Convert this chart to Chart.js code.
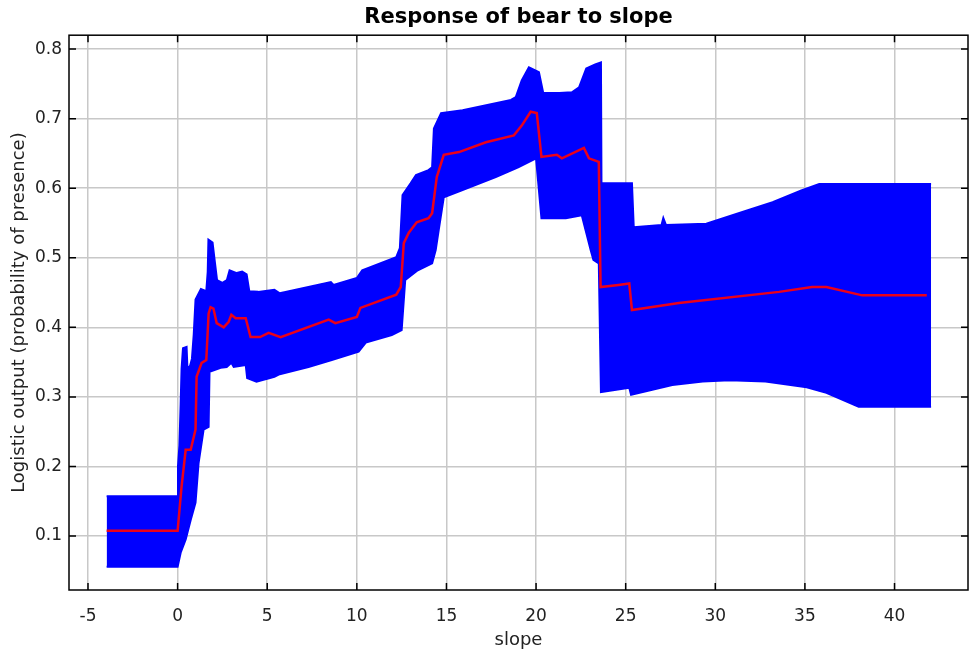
<!DOCTYPE html>
<html>
<head>
<meta charset="utf-8">
<title>Response of bear to slope</title>
<script src="https://cdn.jsdelivr.net/npm/chart.js@4.4.1/dist/chart.umd.min.js"></script>
<style>
  html, body { margin: 0; padding: 0; background: #fff; }
  #wrap { width: 970px; height: 658px; }
</style>
</head>
<body>
<div id="wrap"><canvas id="chart" width="970" height="658"></canvas></div>
<script>
// Valeurs (slope -> sortie logistique)
const upperX = [-3.96, 0.0, 0.02, 0.1, 0.17, 0.22, 0.3, 0.5, 0.55, 0.7, 0.8, 0.9, 1.0, 1.3, 1.6, 1.68, 1.72, 1.95, 2.05, 2.2, 2.5, 2.75, 2.9, 3.3, 3.6, 3.85, 4.0, 4.5, 5.4, 5.7, 7.3, 8.55, 8.7, 10.0, 10.3, 12.2, 12.4, 12.55, 13.0, 13.3, 14.0, 14.2, 14.3, 14.7, 15.9, 18.6, 18.87, 19.2, 19.6, 20.16, 20.4, 21.3, 22.0, 22.4, 22.8, 23.3, 23.62, 23.65, 25.35, 25.45, 27.0, 27.1, 27.25, 29.5, 31.3, 33.2, 34.8, 35.8, 42.04];
const upperY = [0.157, 0.157, 0.2, 0.23, 0.29, 0.34, 0.37, 0.372, 0.34, 0.345, 0.355, 0.39, 0.44, 0.455, 0.452, 0.48, 0.526, 0.522, 0.5, 0.468, 0.464, 0.468, 0.482, 0.478, 0.48, 0.476, 0.452, 0.451, 0.454, 0.449, 0.458, 0.465, 0.461, 0.471, 0.482, 0.501, 0.514, 0.59, 0.607, 0.619, 0.626, 0.63, 0.686, 0.708, 0.712, 0.727, 0.731, 0.755, 0.774, 0.767, 0.737, 0.737, 0.738, 0.745, 0.772, 0.778, 0.781, 0.607, 0.607, 0.544, 0.547, 0.557, 0.547, 0.549, 0.564, 0.58, 0.597, 0.606, 0.606];

const lowerX = [-3.96, 0.0, 0.17, 0.45, 0.73, 1.0, 1.17, 1.45, 1.73, 1.78, 2.4, 2.74, 3.0, 3.13, 3.8, 3.88, 4.4, 5.4, 5.64, 7.3, 8.6, 10.1, 10.5, 11.95, 12.5, 12.7, 13.4, 14.2, 14.4, 14.57, 14.85, 15.86, 17.75, 19.0, 20.0, 20.3, 21.66, 22.55, 22.8, 23.05, 23.2, 23.5, 23.62, 25.2, 25.3, 27.6, 29.3, 30.8, 32.8, 35.1, 36.2, 38.0, 42.04];
const lowerY = [0.056, 0.056, 0.076, 0.095, 0.123, 0.148, 0.205, 0.253, 0.257, 0.336, 0.342, 0.343, 0.349, 0.343, 0.346, 0.327, 0.322, 0.329, 0.332, 0.343, 0.353, 0.365, 0.378, 0.389, 0.396, 0.468, 0.482, 0.492, 0.511, 0.54, 0.587, 0.597, 0.616, 0.63, 0.643, 0.557, 0.557, 0.561, 0.536, 0.511, 0.497, 0.492, 0.307, 0.313, 0.303, 0.317, 0.322, 0.324, 0.322, 0.314, 0.306, 0.286, 0.286];

const meanX = [-3.96, 0.0, 0.22, 0.45, 0.73, 1.0, 1.06, 1.34, 1.6, 1.73, 1.84, 2.0, 2.18, 2.57, 2.85, 3.0, 3.24, 3.8, 4.07, 4.6, 5.08, 5.75, 8.43, 8.8, 10.0, 10.2, 12.2, 12.45, 12.62, 12.9, 13.34, 14.0, 14.2, 14.46, 14.85, 15.7, 17.2, 18.76, 19.2, 19.7, 20.04, 20.3, 21.16, 21.44, 22.67, 22.95, 23.5, 23.6, 24.6, 25.2, 25.35, 27.97, 33.56, 35.4, 36.2, 38.2, 41.8];
const meanY = [0.1075, 0.1075, 0.171, 0.224, 0.224, 0.253, 0.329, 0.349, 0.353, 0.42, 0.429, 0.427, 0.406, 0.4, 0.408, 0.418, 0.413, 0.413, 0.386, 0.386, 0.392, 0.386, 0.411, 0.406, 0.415, 0.428, 0.447, 0.458, 0.521, 0.536, 0.551, 0.557, 0.564, 0.616, 0.648, 0.652, 0.666, 0.676, 0.69, 0.71, 0.708, 0.645, 0.648, 0.643, 0.658, 0.643, 0.638, 0.458, 0.461, 0.463, 0.425, 0.435, 0.451, 0.458, 0.458, 0.446, 0.446];

const xTicks = [-5, 0, 5, 10, 15, 20, 25, 30, 35, 40];
const yTicks = [0.1, 0.2, 0.3, 0.4, 0.5, 0.6, 0.7, 0.8];

function toPoints(xs, ys) {
    return xs.map((x, i) => ({ x: x, y: ys[i] }));
}

// Cadre noir + petites graduations tournées vers l'intérieur (style Java)
const framePlugin = {
    id: 'frame',
    afterDraw(chart) {
        const { ctx, chartArea: a, scales } = chart;
        ctx.save();
        ctx.strokeStyle = '#000';
        ctx.lineWidth = 1.5;
        ctx.strokeRect(a.left, a.top, a.right - a.left, a.bottom - a.top);
        ctx.beginPath();
        xTicks.forEach(v => {
            const px = scales.x.getPixelForValue(v);
            ctx.moveTo(px, a.bottom); ctx.lineTo(px, a.bottom - 7);
            ctx.moveTo(px, a.top); ctx.lineTo(px, a.top + 7);
        });
        yTicks.forEach(v => {
            const py = scales.y.getPixelForValue(v);
            ctx.moveTo(a.left, py); ctx.lineTo(a.left + 7, py);
            ctx.moveTo(a.right, py); ctx.lineTo(a.right - 7, py);
        });
        ctx.stroke();
        ctx.restore();
    }
};

Chart.defaults.font.family = "'DejaVu Sans', sans-serif";

const ctx = document.getElementById('chart').getContext('2d');
new Chart(ctx, {
    type: 'line',
    data: {
        datasets: [
            {
                label: 'Moyenne',
                data: toPoints(meanX, meanY),
                borderColor: 'rgb(235,0,25)',
                borderWidth: 2.5,
                pointRadius: 0,
                fill: false
            },
            {
                label: 'Haut',
                data: toPoints(upperX, upperY),
                borderColor: '#0000ff',
                backgroundColor: '#0000ff',
                borderWidth: 2,
                pointRadius: 0,
                fill: '+1'
            },
            {
                label: 'Bas',
                data: toPoints(lowerX, lowerY),
                borderColor: '#0000ff',
                borderWidth: 2,
                pointRadius: 0,
                fill: false
            }
        ]
    },
    options: {
        responsive: false,
        animation: false,
        devicePixelRatio: 1,
        layout: { padding: { left: 0, right: 2, top: 0, bottom: 0 } },
        plugins: {
            legend: { display: false },
            tooltip: { enabled: false },
            title: {
                display: true,
                fullSize: false,
                text: 'Response of bear to slope',
                color: '#000',
                font: { size: 21, weight: 'bold' },
                padding: { top: 5, bottom: 5 }
            }
        },
        scales: {
            x: {
                type: 'linear',
                min: -6.06,
                max: 44.1,
                afterFit: s => { s.height = 68; },
                border: { display: false },
                grid: { color: '#c8c8c8', lineWidth: 1.5, drawTicks: false },
                ticks: {
                    stepSize: 5,
                    includeBounds: false,
                    padding: 16,
                    color: '#222',
                    font: { size: 17 },
                    callback: v => String(v)
                },
                title: {
                    display: true,
                    text: 'slope',
                    color: '#222',
                    font: { size: 18 },
                    padding: { top: 7, bottom: 7 }
                }
            },
            y: {
                type: 'linear',
                min: 0.0224,
                max: 0.82,
                afterFit: s => { s.width = 69; },
                border: { display: false },
                grid: { color: '#c8c8c8', lineWidth: 1.5, drawTicks: false },
                ticks: {
                    stepSize: 0.1,
                    includeBounds: false,
                    padding: 7,
                    color: '#222',
                    font: { size: 17 },
                    callback: v => Number(v).toFixed(1)
                },
                title: {
                    display: true,
                    text: 'Logistic output (probability of presence)',
                    color: '#222',
                    font: { size: 18 },
                    padding: { top: 9, bottom: 0 }
                }
            }
        }
    },
    plugins: [framePlugin]
});
</script>
</body>
</html>
